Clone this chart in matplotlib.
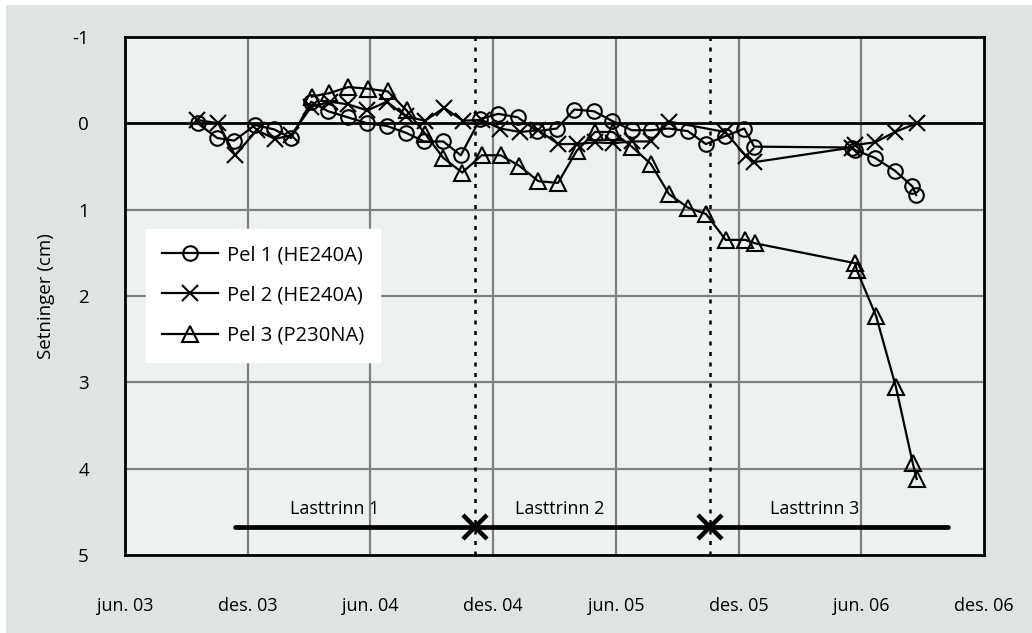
import numpy as np
import matplotlib.pyplot as plt
from matplotlib.patches import Rectangle

# x = months after 1 June 2003, y = settlement in cm (positive downwards)
pel1_m = [3.56, 4.51, 5.34, 6.36, 7.29, 8.12, 9.10, 9.93, 10.89, 11.85, 12.80, 13.74,
          14.62, 15.56, 16.42, 17.36, 18.25, 19.20, 20.16, 21.11, 21.97, 22.93, 23.80,
          24.78, 25.71, 26.57, 27.52, 28.40, 29.34, 30.28, 30.76, 35.55, 35.70, 36.67,
          37.65, 38.50, 38.68]
pel1_v = [0.00, 0.17, 0.20, 0.02, 0.07, 0.17, -0.25, -0.14, -0.07, 0.00, 0.03, 0.11,
          0.21, 0.21, 0.37, -0.05, -0.11, -0.07, 0.09, 0.06, -0.16, -0.14, -0.03,
          0.08, 0.08, 0.06, 0.09, 0.24, 0.15, 0.06, 0.27, 0.28, 0.31, 0.40,
          0.55, 0.73, 0.83]

pel2_m = [3.51, 4.56, 5.38, 6.44, 7.33, 8.12, 9.10, 10.02, 10.90, 11.85, 12.80, 13.74,
          14.67, 15.60, 16.53, 17.44, 18.34, 19.32, 20.21, 21.19, 22.09, 22.98, 23.85,
          24.78, 25.72, 26.60, 29.34, 30.37, 30.76, 35.55, 35.70, 36.67, 37.65, 38.71]
pel2_v = [-0.04, 0.00, 0.37, 0.08, 0.18, 0.14, -0.19, -0.25, -0.22, -0.15, -0.25, -0.08,
          -0.03, -0.18, -0.03, -0.04, 0.06, 0.10, 0.08, 0.24, 0.24, 0.22, 0.23,
          0.21, 0.21, -0.02, 0.10, 0.38, 0.45, 0.28, 0.25, 0.22, 0.10, 0.00]

pel3_m = [9.13, 9.99, 10.92, 11.90, 12.85, 13.77, 14.67, 15.56, 16.49, 17.44, 18.37,
          19.27, 20.21, 21.17, 22.08, 22.98, 23.85, 24.78, 25.71, 26.60, 27.55, 28.41,
          29.37, 30.32, 30.81, 35.70, 35.78, 36.72, 37.69, 38.52, 38.71]
pel3_v = [-0.31, -0.35, -0.42, -0.40, -0.37, -0.15, 0.12, 0.40, 0.57, 0.37, 0.37,
          0.49, 0.67, 0.69, 0.32, 0.10, 0.10, 0.27, 0.47, 0.82, 0.98, 1.05,
          1.35, 1.35, 1.39, 1.62, 1.70, 2.23, 3.05, 3.94, 4.12]

labels = ['Pel 1 (HE240A)', 'Pel 2 (HE240A)', 'Pel 3 (P230NA)']

# load stages
stage_start = 5.38
stage_bounds = [17.1, 28.6]
stage_end = 40.24
stage_level = 4.67
stage_names = ['Lasttrinn 1', 'Lasttrinn 2', 'Lasttrinn 3']
stage_text_x = [10.27, 21.27, 33.74]

xtick_pos = [0, 6, 12, 18, 24, 30, 36, 42]
xtick_lab = ['jun. 03', 'des. 03', 'jun. 04', 'des. 04', 'jun. 05', 'des. 05', 'jun. 06', 'des. 06']

plt.rcParams['font.family'] = ['Open Sans', 'DejaVu Sans']
plt.rcParams['axes.unicode_minus'] = False
narrow = ['Liberation Sans Narrow', 'Open Sans', 'DejaVu Sans']

fig = plt.figure(figsize=(10.32, 6.33), dpi=100, facecolor='white')
fig.patches.append(Rectangle((6/1032, 0), 1 - 6/1032, 1 - 5/633, transform=fig.transFigure,
                             facecolor='#dfe3e4', edgecolor='none', zorder=-10))
ax = fig.add_axes([125/1032, 1 - 555/633, 859/1032, 518/633])
ax.set_facecolor('#edf1f2')

ax.set_xlim(0, 42)
ax.set_ylim(5, -1)
ax.set_xticks(xtick_pos)
ax.set_xticklabels(xtick_lab, family=narrow, fontsize=13)
ax.set_yticks([-1, 0, 1, 2, 3, 4, 5])
ax.tick_params(axis='x', length=0, pad=30)
ax.tick_params(axis='y', length=0, pad=26, labelsize=13.5)
ax.set_ylabel('Setninger (cm)', fontsize=13.5, labelpad=12)

for v in [1, 2, 3, 4]:
    ax.axhline(v, color='#808080', lw=1.6, zorder=1)
for m in xtick_pos[1:-1]:
    ax.axvline(m, color='#808080', lw=1.6, zorder=1)
ax.axhline(0, color='black', lw=2, zorder=2)
for s in ax.spines.values():
    s.set_linewidth(2)
    s.set_color('black')

for b in stage_bounds:
    ax.axvline(b, color='black', lw=1.8, ls=(0, (1.6, 2.6)), zorder=2)

mk = dict(color='black', lw=1.6, markerfacecolor='none', markeredgecolor='black',
          markeredgewidth=1.5, zorder=3)
ax.plot(pel1_m, pel1_v, marker='o', markersize=10.5, label=labels[0], **mk)
ax.plot(pel2_m, pel2_v, marker='x', markersize=11.5, label=labels[1], **mk)
ax.plot(pel3_m, pel3_v, marker='^', markersize=11.5, label=labels[2], **mk)

ax.plot([stage_start, stage_end], [stage_level, stage_level], color='black', lw=3.4,
        solid_capstyle='round', zorder=4)
ax.plot(stage_bounds, [stage_level] * 2, ls='none', marker='x', markersize=17,
        markeredgewidth=3.2, color='black', zorder=5)
for name, x in zip(stage_names, stage_text_x):
    ax.text(x, stage_level - 0.2, name, ha='center', va='center', family=narrow, fontsize=13)

leg = ax.legend(loc='upper left', bbox_to_anchor=(0.0244, 0.629), borderaxespad=0,
                fontsize=14.5, handlelength=2.8, handletextpad=0.4, labelspacing=1.0,
                borderpad=0.8, fancybox=False, framealpha=1, edgecolor='white')
leg.get_frame().set_facecolor('white')
leg.set_zorder(6)

fig.savefig('out.png', dpi=100, facecolor=fig.get_facecolor())
